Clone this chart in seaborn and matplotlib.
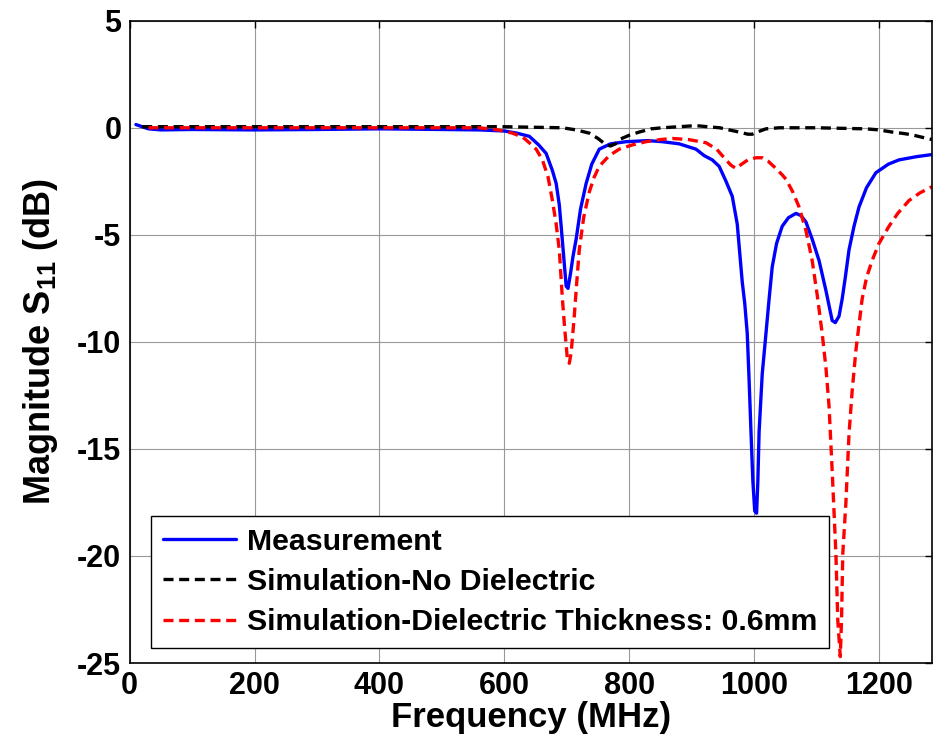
import numpy as np
import pandas as pd
import matplotlib
matplotlib.use("Agg")
import matplotlib.pyplot as plt
import seaborn as sns

# Measured S11 (MHz, dB)
meas_f = [10, 20, 30, 50, 100, 200, 300, 400, 500, 560, 600, 620, 640, 655, 667,
          677, 683, 688, 691, 695, 699, 702, 706, 710, 715, 722, 731, 740, 752,
          770, 795, 830, 853, 880, 907, 920, 933, 944, 955, 965, 973, 981, 985,
          989, 992, 995, 998, 1001, 1004, 1006, 1008, 1013, 1019, 1024, 1029,
          1036, 1045, 1055, 1067, 1075, 1083, 1093, 1104, 1115, 1125, 1130, 1136,
          1141, 1146, 1152, 1160, 1168, 1180, 1195, 1215, 1232, 1260, 1285]
meas_db = [0.15, 0.05, -0.05, -0.1, -0.08, -0.1, -0.08, -0.05, -0.08, -0.1, -0.15,
           -0.25, -0.4, -0.8, -1.2, -2.0, -2.6, -3.6, -4.6, -6.0, -7.4, -7.5, -6.8,
           -6.0, -5.2, -3.8, -2.6, -1.7, -1.0, -0.75, -0.65, -0.6, -0.65, -0.75,
           -1.0, -1.3, -1.5, -1.8, -2.5, -3.2, -4.5, -7.2, -8.2, -9.6, -11.8, -14.2,
           -16.5, -17.9, -18.0, -16.5, -14.2, -11.5, -9.6, -8.0, -6.5, -5.4, -4.6,
           -4.2, -4.0, -4.1, -4.4, -5.2, -6.2, -7.6, -9.0, -9.1, -8.8, -8.0, -7.0,
           -5.7, -4.6, -3.7, -2.8, -2.1, -1.7, -1.5, -1.35, -1.25]

# Simulation without dielectric
nodiel_f = [20, 200, 400, 600, 693, 715, 736, 750, 763, 770, 778, 784, 800, 816,
            835, 853, 880, 907, 925, 945, 960, 976, 990, 997, 1005, 1019, 1040,
            1100, 1179, 1200, 1221, 1240, 1253, 1270, 1285]
nodiel_db = [0.05, 0.05, 0.05, 0.05, 0.0, -0.1, -0.25, -0.5, -0.8, -0.85, -0.75,
             -0.55, -0.35, -0.2, -0.05, 0.0, 0.05, 0.1, 0.05, 0.0, -0.1, -0.2, -0.3,
             -0.3, -0.2, -0.05, 0.0, 0.0, -0.05, -0.1, -0.2, -0.27, -0.33, -0.45,
             -0.55]

# Simulation with 0.6 mm dielectric
diel_f = [30, 200, 400, 560, 590, 613, 630, 640, 651, 661, 670, 677, 683, 688, 693,
          697, 701, 704, 707, 712, 716, 720, 727, 736, 744, 752, 768, 784, 805, 827,
          850, 869, 895, 923, 940, 955, 963, 971, 980, 990, 1003, 1013, 1022, 1035,
          1045, 1051, 1062, 1072, 1083, 1093, 1101, 1109, 1115, 1120, 1125, 1131,
          1134, 1138, 1140, 1142, 1147, 1152, 1157, 1163, 1173, 1180, 1189, 1200,
          1216, 1230, 1248, 1265, 1285]
diel_db = [0.0, 0.0, 0.0, 0.0, -0.1, -0.25, -0.45, -0.7, -1.0, -1.5, -2.3, -3.4,
           -4.5, -5.7, -8.0, -9.5, -10.8, -11.0, -10.5, -8.8, -7.2, -5.7, -4.2, -3.0,
           -2.3, -1.8, -1.3, -1.0, -0.8, -0.65, -0.55, -0.5, -0.55, -0.7, -1.0, -1.5,
           -1.75, -1.9, -1.7, -1.5, -1.4, -1.4, -1.55, -1.9, -2.2, -2.4, -3.0, -3.7,
           -4.8, -6.2, -7.8, -9.6, -11.2, -13.0, -16.0, -19.9, -23.0, -24.7, -23.0,
           -19.9, -17.5, -14.3, -12.3, -10.4, -8.0, -7.0, -6.2, -5.4, -4.6, -4.0,
           -3.4, -3.05, -2.75]

labels = ["Measurement", "Simulation-No Dielectric",
          "Simulation-Dielectric Thickness: 0.6mm"]

df = pd.concat([
    pd.DataFrame({"f": meas_f, "db": meas_db, "series": labels[0]}),
    pd.DataFrame({"f": nodiel_f, "db": nodiel_db, "series": labels[1]}),
    pd.DataFrame({"f": diel_f, "db": diel_db, "series": labels[2]}),
])

sns.set_style("white")
plt.rcParams["font.family"] = ["Liberation Sans", "DejaVu Sans"]
plt.rcParams["font.weight"] = "bold"
plt.rcParams["text.color"] = "black"
plt.rcParams["axes.labelcolor"] = "black"
plt.rcParams["xtick.color"] = "black"
plt.rcParams["ytick.color"] = "black"
plt.rcParams["axes.unicode_minus"] = False
plt.rcParams["mathtext.fontset"] = "custom"
plt.rcParams["mathtext.rm"] = "Liberation Sans:bold"
plt.rcParams["mathtext.bf"] = "Liberation Sans:bold"

fig = plt.figure(figsize=(9.33, 7.4), dpi=100)
ax = fig.add_axes([0.139, 0.104, 0.860, 0.868])

sns.lineplot(data=df, x="f", y="db", hue="series", style="series",
             palette={labels[0]: "#0000ff", labels[1]: "black", labels[2]: "#ff0000"},
             dashes={labels[0]: "", labels[1]: (3, 1.7), labels[2]: (3, 1.7)},
             linewidth=2.4, sort=False, estimator=None, ax=ax)

ax.set_xlim(0, 1285)
ax.set_ylim(-25, 5)
ax.set_xticks(np.arange(0, 1201, 200))
ax.set_yticks(np.arange(-25, 6, 5))
ax.grid(True, color="0.6", linewidth=0.8)
ax.set_axisbelow(True)
for s in ax.spines.values():
    s.set_visible(True)
    s.set_color("black")
    s.set_linewidth(1.2)
ax.tick_params(direction="in", top=True, right=True, length=5, width=1,
               labelsize=22, pad=6)
for t in ax.get_xticklabels() + ax.get_yticklabels():
    t.set_fontweight("bold")

ax.set_xlabel("Frequency (MHz)", fontsize=25, fontweight="bold", labelpad=0)
ax.set_ylabel(r"Magnitude S$_{11}$ (dB)", fontsize=26, fontweight="bold", labelpad=12)

leg = ax.legend(loc="lower left", bbox_to_anchor=(0.027, 0.023), borderaxespad=0,
                prop={"size": 21.8, "weight": "bold"}, handlelength=2.4,
                handletextpad=0.35, labelspacing=0.4, borderpad=0.4,
                fancybox=False, framealpha=1, edgecolor="black")
leg.get_frame().set_linewidth(1.0)
for line in leg.get_lines():
    line.set_linewidth(2.4)

fig.savefig("out.png", dpi=100)
